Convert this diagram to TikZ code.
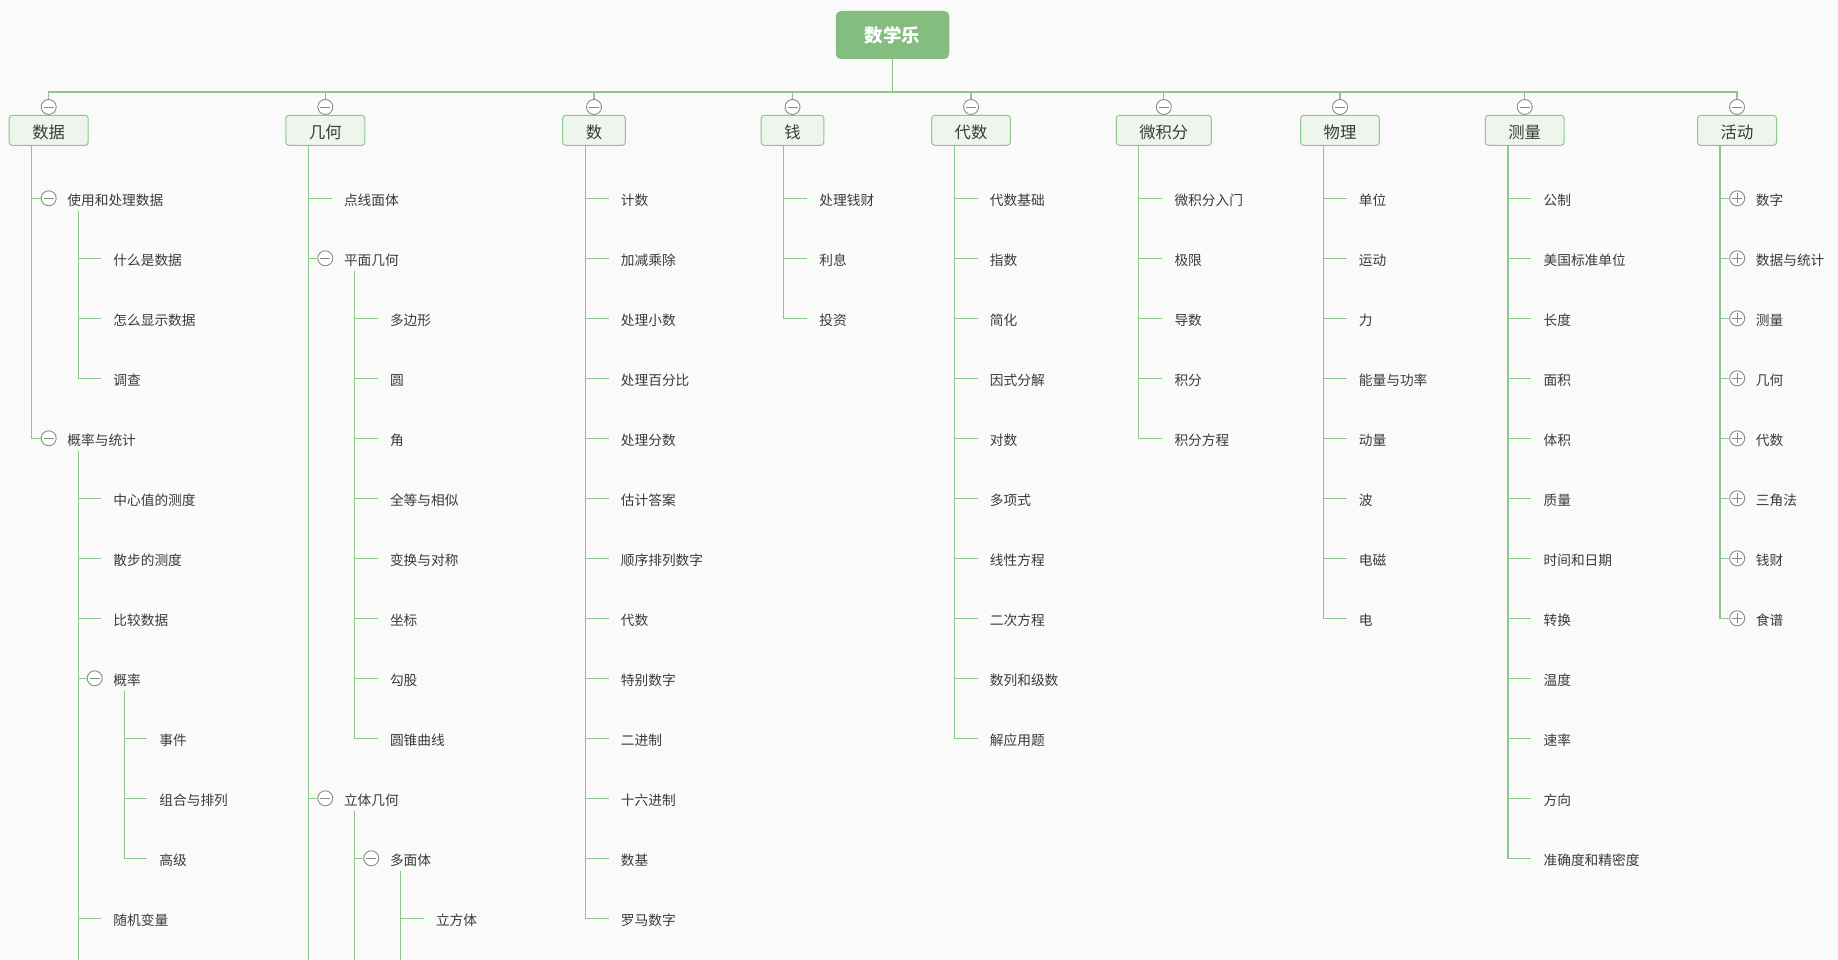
\documentclass[tikz,border=0pt]{standalone}
\usepackage{fontspec}
\setmainfont{Noto Sans CJK SC}
\definecolor{bg}{HTML}{FAFAFA}
\definecolor{lgreen}{HTML}{8CC88A}
\definecolor{rootg}{HTML}{84BD7E}
\definecolor{boxfill}{HTML}{EEF5EC}
\definecolor{txt}{HTML}{3A3A3A}
\definecolor{cgray}{HTML}{8A8A8A}
\tikzset{
 conn/.style={draw=lgreen, line width=1.2pt},
 rootbox/.style={fill=rootg, rounded corners=5pt, minimum width=113.5pt, minimum height=48pt, text=white, font=\fontsize{18.5}{20}\selectfont\bfseries, inner sep=0pt},
 topbox/.style={draw=lgreen, fill=boxfill, line width=1pt, rounded corners=3pt, minimum height=30pt, inner sep=0pt, text height=18pt, text depth=1pt, text=txt, font=\fontsize{16.3}{18}\selectfont},
 leaf/.style={anchor=west, inner xsep=12pt, inner ysep=0pt, text height=15.2pt, text depth=1.4pt, text=txt, font=\fontsize{13.7}{15}\selectfont},
 togg/.style={circle, draw=cgray, fill=white, line width=0.9pt, minimum size=15pt, inner sep=0pt},
 minus/.style={togg, path picture={\draw[cgray,line width=0.9pt] ([xshift=-5pt]path picture bounding box.center) -- ([xshift=5pt]path picture bounding box.center);}},
 plus/.style={togg, path picture={\draw[cgray,line width=0.9pt] ([xshift=-5pt]path picture bounding box.center) -- ([xshift=5pt]path picture bounding box.center) ([yshift=-5pt]path picture bounding box.center) -- ([yshift=5pt]path picture bounding box.center);}},
}
% leaf child: name, trunk coordinate, west x, row, text
\newcommand{\kid}[5]{\node[leaf] (#1) at (#3,{138.3+60*#4}) {#5}; \draw[conn] (#2) |- (#1.west);}
% toggled child: name, trunk coordinate, west x, row, text, sign style
\newcommand{\tkid}[6]{\node[leaf] (#1) at (#3,{138.3+60*#4}) {#5};
 \node[#6] (#1c) at ({#3-6.5},{138.3+60*#4}) {};
 \draw[conn] (#2) |- (#1c.west);
 \coordinate (#1T) at ([xshift=23pt,yshift=-12.5pt]#1.west);}
\begin{document}
\begin{tikzpicture}[x=1pt,y=-1pt]
\fill[bg] (0,0) rectangle (1838,960);
\useasboundingbox (0,0) rectangle (1838,960);
\node[rootbox] (root) at (892.5,35) {数学乐};
\coordinate (bus) at (0,92);
\foreach \n/\x/\w/\t in {data/48.7/79/数据, geo/325.3/79/几何, num/594/62.6/数, money/792.5/62.6/钱, alg/971/78.6/代数, calc/1163.8/95/微积分, phys/1340/78.6/物理, meas/1524.7/78.6/测量, act/1737/79/活动}{
 \draw[conn] (root.south) -- (root.south |- bus) -| (\x,100);
 \node[minus] (c\n) at (\x,107) {};
 \node[topbox, minimum width=\w pt] (\n) at (\x,130.3) {\t};
 \coordinate (\n T) at ([xshift=23pt]\n.south west);
}
% 数据
\tkid{use}{dataT}{55.2}{1}{使用和处理数据}{minus}
\kid{d1}{useT}{101.2}{2}{什么是数据}
\kid{d2}{useT}{101.2}{3}{怎么显示数据}
\kid{d3}{useT}{101.2}{4}{调查}
\tkid{prob}{dataT}{55.2}{5}{概率与统计}{minus}
\kid{p1}{probT}{101.2}{6}{中心值的测度}
\kid{p2}{probT}{101.2}{7}{散步的测度}
\kid{p3}{probT}{101.2}{8}{比较数据}
\tkid{pr}{probT}{101.2}{9}{概率}{minus}
\kid{pr1}{prT}{147.2}{10}{事件}
\kid{pr2}{prT}{147.2}{11}{组合与排列}
\kid{pr3}{prT}{147.2}{12}{高级}
\kid{p4}{probT}{101.2}{13}{随机变量}
\draw[conn] (probT) -- (probT |- 0,962);
% 几何
\kid{g1}{geoT}{331.8}{1}{点线面体}
\tkid{plane}{geoT}{331.8}{2}{平面几何}{minus}
\foreach \t [count=\i from 3] in {多边形,圆,角,全等与相似,变换与对称,坐标,勾股,圆锥曲线}{\kid{pl\i}{planeT}{377.8}{\i}{\t}}
\tkid{solid}{geoT}{331.8}{11}{立体几何}{minus}
\tkid{poly}{solidT}{377.8}{12}{多面体}{minus}
\kid{cube}{polyT}{423.8}{13}{立方体}
\draw[conn] (geoT) -- (geoT |- 0,962);
\draw[conn] (solidT) -- (solidT |- 0,962);
\draw[conn] (polyT) -- (polyT |- 0,962);
% 数
\foreach \t [count=\i] in {计数,加减乘除,处理小数,处理百分比,处理分数,估计答案,顺序排列数字,代数,特别数字,二进制,十六进制,数基,罗马数字}{\kid{nm\i}{numT}{608.7}{\i}{\t}}
% 钱
\foreach \t [count=\i] in {处理钱财,利息,投资}{\kid{mo\i}{moneyT}{807.2}{\i}{\t}}
% 代数
\foreach \t [count=\i] in {代数基础,指数,简化,因式分解,对数,多项式,线性方程,二次方程,数列和级数,解应用题}{\kid{al\i}{algT}{977.7}{\i}{\t}}
% 微积分
\foreach \t [count=\i] in {微积分入门,极限,导数,积分,积分方程}{\kid{ca\i}{calcT}{1162.3}{\i}{\t}}
% 物理
\foreach \t [count=\i] in {单位,运动,力,能量与功率,动量,波,电磁,电}{\kid{ph\i}{physT}{1346.7}{\i}{\t}}
% 测量
\foreach \t [count=\i] in {公制,美国标准单位,长度,面积,体积,质量,时间和日期,转换,温度,速率,方向,准确度和精密度}{\kid{me\i}{measT}{1531.4}{\i}{\t}}
% 活动
\foreach \t [count=\i] in {数字,数据与统计,测量,几何,代数,三角法,钱财,食谱}{\tkid{ac\i}{actT}{1743.7}{\i}{\t}{plus}}
\end{tikzpicture}
\end{document}
